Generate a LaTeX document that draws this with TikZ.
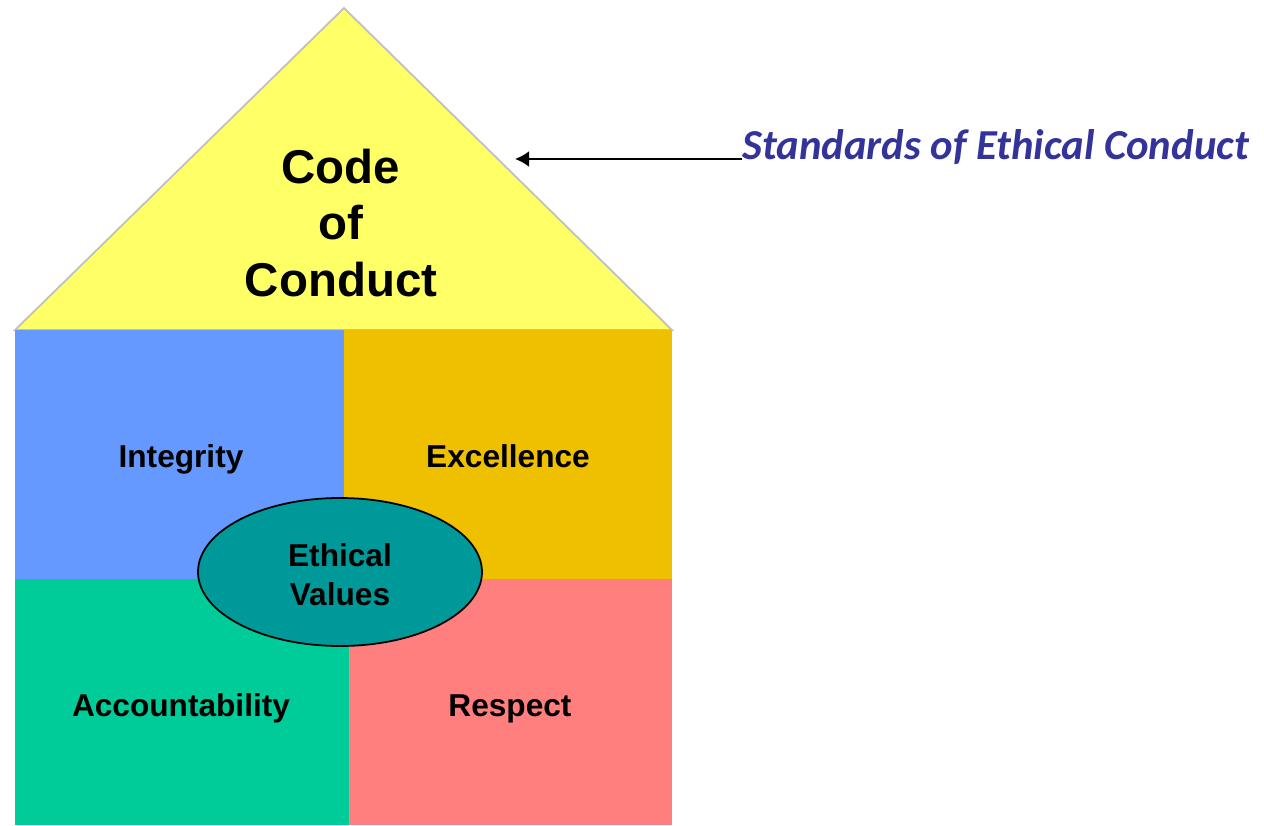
\documentclass[tikz,border=0pt]{standalone}
\usepackage{fontspec}
\setmainfont{Liberation Sans}
\newfontfamily\stdfont{Carlito}
\usetikzlibrary{arrows.meta}
\usetikzlibrary{shapes.geometric}
\tikzset{>={Latex[length=2.8mm, width=3.2mm]}}
\definecolor{roofyellow}{HTML}{FFFF66}
\definecolor{roofline}{HTML}{C0C0C0}
\definecolor{intblue}{HTML}{6699FF}
\definecolor{excgold}{HTML}{EEC000}
\definecolor{accgreen}{HTML}{00CC99}
\definecolor{respink}{HTML}{FF7F7F}
\definecolor{valteal}{HTML}{009999}
\definecolor{stdblue}{HTML}{333399}
\tikzset{
    value/.style={font=\fontsize{18}{22}\selectfont\bfseries, align=center},
    code/.style={font=\fontsize{27}{32}\selectfont\bfseries, align=center},
}

\begin{document}
\begin{tikzpicture} % house of ethics
	\useasboundingbox (0,0) rectangle (25.28,16.5);
	% roof
	\filldraw[fill=roofyellow, draw=roofline, line width=1pt] (0.30,9.90) -- (6.88,16.34) -- (13.44,9.90) -- cycle;
	\node[code] (code) at (6.82,12.04) {Code\\of\\Conduct};
	% the four values
	\fill[intblue] (0.30,4.92) rectangle (6.88,9.90);
	\fill[excgold] (6.88,4.92) rectangle (13.44,9.90);
	\fill[accgreen] (0.30,0) rectangle (6.98,4.92);
	\fill[respink] (6.98,0) rectangle (13.44,4.92);
	\node[value, anchor=base] (integrity) at (3.62,7.15) {Integrity};
	\node[value, anchor=base] (excellence) at (10.16,7.15) {Excellence};
	\node[value, anchor=base] (account) at (3.62,2.17) {Accountability};
	\node[value, anchor=base] (respect) at (10.20,2.17) {Respect};
	% centre
	\node[ellipse, draw=black, line width=1pt, fill=valteal, minimum width=5.68cm, minimum height=2.96cm] (ethval) at (6.80,5.06) {};
	\node[value] (ethtext) at ([yshift=-0.06cm]ethval.center) {Ethical\\Values};
	% standards
	\node[anchor=base west, inner sep=0pt, text=stdblue, font=\stdfont\fontsize{24.3}{28}\selectfont\bfseries\itshape] (stds) at (14.84,13.30) {Standards of Ethical Conduct};
	\coordinate (tip) at (10.30,13.32);
	\draw[->, line width=1.4pt] (stds.west |- tip) -- (tip);
\end{tikzpicture}
\end{document}
